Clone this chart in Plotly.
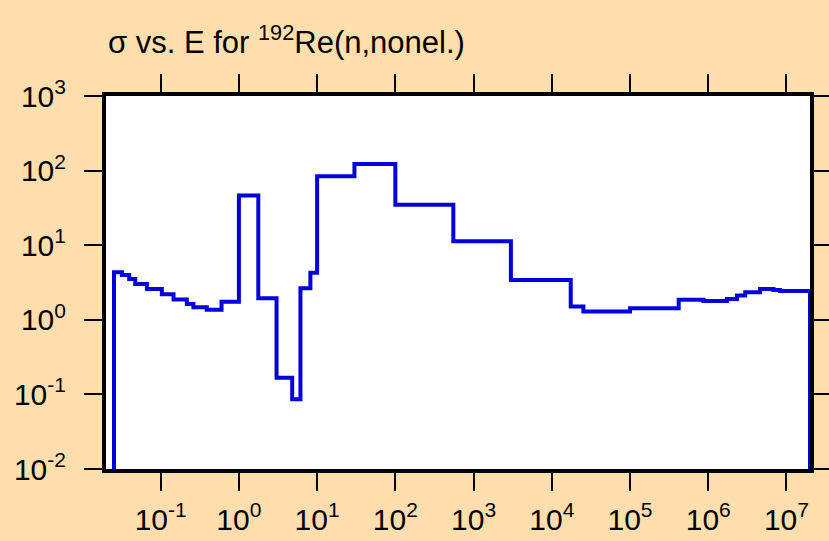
import math
import plotly.graph_objects as go

# Group-wise nonelastic cross section of Re-192: bin edges (eV) and values (barns)
energy_edges = [0.0253, 0.032, 0.0396, 0.0473, 0.0667, 0.1035, 0.146, 0.216,
                0.262, 0.388, 0.60, 1.0, 1.77, 3.03, 4.8, 6.12, 8.2, 10.0,
                30.0, 100.0, 551.0, 3000.0, 17460.0, 25350.0, 1.0e5, 4.19e5,
                8.7e5, 1.73e6, 2.33e6, 2.97e6, 4.61e6, 6.82e6, 8.3e6, 2.0e7]
sigma_values = [4.33, 3.98, 3.52, 3.02, 2.59, 2.2, 1.87, 1.63, 1.47, 1.36,
                1.75, 46.4, 1.95, 0.167, 0.086, 2.64, 4.27, 84.0, 123.0,
                34.9, 11.3, 3.41, 1.51, 1.29, 1.43, 1.85, 1.79, 1.9, 2.11,
                2.34, 2.59, 2.51, 2.44]

x_tick_vals = [1e-1, 1e0, 1e1, 1e2, 1e3, 1e4, 1e5, 1e6, 1e7]
x_tick_text = ["10<sup>-1</sup>", "10<sup>0</sup>", "10<sup>1</sup>",
               "10<sup>2</sup>", "10<sup>3</sup>", "10<sup>4</sup>",
               "10<sup>5</sup>", "10<sup>6</sup>", "10<sup>7</sup>"]
y_tick_vals = [1e-2, 1e-1, 1e0, 1e1, 1e2, 1e3]
y_tick_text = ["10<sup>-2</sup>", "10<sup>-1</sup>", "10<sup>0</sup>",
               "10<sup>1</sup>", "10<sup>2</sup>", "10<sup>3</sup>"]

# Histogram outline: rise from below the axis at the first edge,
# step through each group, and fall back down at the last edge.
floor = 1e-5
xs = [energy_edges[0]] + energy_edges[:-1] + [energy_edges[-1]]
ys = [floor] + sigma_values + [floor]

fig = go.Figure(go.Scatter(
    x=xs, y=ys, mode="lines", line_shape="hv",
    line=dict(color="#0000dd", width=4), hoverinfo="skip",
))

font_family = "Liberation Sans, Arial, sans-serif"
axis_common = dict(
    type="log", showline=True, linewidth=4, linecolor="black",
    mirror="allticks", ticks="outside", ticklen=18, tickwidth=2,
    tickcolor="black", showgrid=False, zeroline=False, automargin=False,
    tickfont=dict(family=font_family, size=30, color="black"),
)

fig.update_layout(
    width=829, height=541,
    margin=dict(l=106, r=19, t=96, b=72),
    paper_bgcolor="#ffdead", plot_bgcolor="white",
    showlegend=False,
    title=dict(
        text="σ vs. E for <sup>192</sup>Re(n,nonel.)",
        font=dict(family=font_family, size=31, color="black"),
        x=108 / 829, xref="container", xanchor="left",
        y=1 - 42 / 541, yref="container", yanchor="middle",
        automargin=False,
    ),
    xaxis=dict(axis_common, range=[math.log10(0.02), math.log10(2e7)],
               tickvals=x_tick_vals, ticktext=x_tick_text,
               ticklabelstandoff=3),
    yaxis=dict(axis_common, range=[-2, 3],
               tickvals=y_tick_vals, ticktext=y_tick_text,
               ticklabelstandoff=12),
)

fig.write_html("out.html")
